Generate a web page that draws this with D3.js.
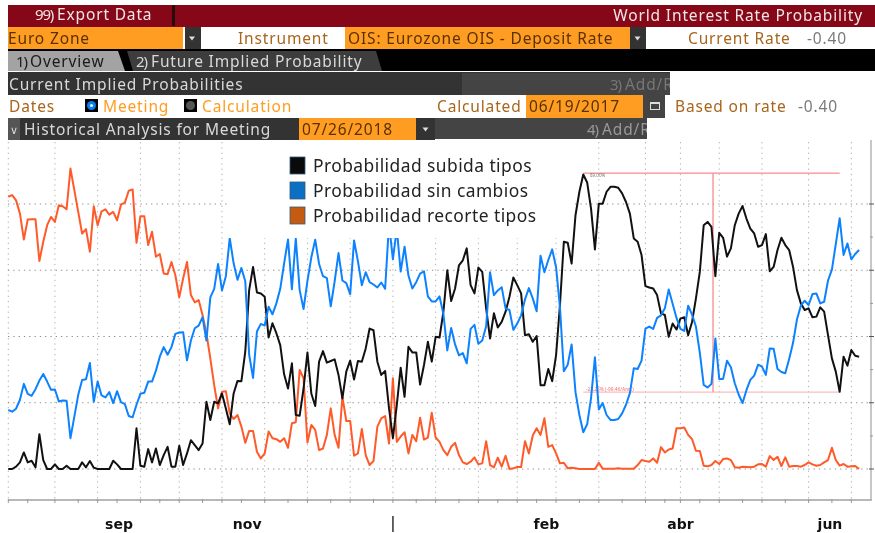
<!DOCTYPE html>
<html><head><meta charset="utf-8">
<script src="https://cdn.jsdelivr.net/npm/d3@7/dist/d3.min.js"></script>
<style>html,body{margin:0;padding:0;background:#fff;overflow:hidden}svg{display:block;filter:blur(0.4px)}</style></head>
<body><svg id="c" width="875" height="533"></svg>
<script>
const subida=[0,0,.7,2,5,2,2.5,.5,10.5,2.7,0,0,1.4,0,0,1,0,0,0,2,.5,2.4,.4,0,0,0,0,2.5,1.4,0,0,0,0,12.3,1,.7,6,2,6.2,1.2,4.2,6.7,.7,.7,7,1.2,4.7,8.7,7.2,5.7,7.7,20.3,14.8,20.3,19.8,22.8,18.3,13.5,22.8,26.6,26.5,35.4,54,61,53.3,53,52,39.7,44,41,37.4,28.6,24.3,
31.9,16.3,16.1,24.3,35.2,22.8,19,32.4,35.6,32.1,32.6,33.1,28.4,21.3,29.4,32.7,27,32.6,32.4,36.4,42.4,41.9,32.4,28.4,29.6,18.3,9.3,19.3,30.6,21.8,36.9,35.2,35.2,25.5,31.4,38.4,32.4,39.9,39.7,47.5,60,50.7,54.5,61.5,63,66.6,55.5,53,60.8,59.5,48.5,39.4,47,42.7,44.4,47.5,52,57.8,55.5,53,40.4,40.7,38.4,40.1,25.3,25.3,30.2,26.5,34.4,49.5,68.6,68.3,62,76.6,
83.7,88.9,86.5,78.6,66.3,80.1,80.1,83.7,85.2,85.2,84.9,83.2,80.6,77.1,69.6,68.6,64.6,55.2,54.8,54.5,52.5,47,46.5,39.9,43.9,42.1,45.4,45.8,40.4,44.4,51.5,59.5,73.6,74.6,73.1,58.2,71.3,69.8,64.1,66.6,73.6,77.1,79.4,75.6,72.6,71.1,67.1,67.6,70.9,59.7,61,66.1,69.8,67.6,66.1,61,54,50,48,48.5,45.8,46,48.8,47.5,40.4,33.4,29.4,23.3,33.9,31.2,35.9,34.2,33.9];
const sinCambios=[17.8,17.3,18.2,20.9,25.7,22.7,22.1,24.1,26.7,28.7,26.4,23.9,24,20.4,20.7,20.6,9.3,15.8,22.4,26.9,27.1,32,20.3,26.4,22.2,21.6,23.2,19.9,23.5,20.2,19.6,16,15.6,19.4,22.7,23,26.4,26.4,29.7,33.9,36.8,34.5,36.8,40.8,41.2,41.3,32.8,38.8,42.5,43.3,45.8,38.8,51.8,54.4,61.9,53.9,58.2,69.7,62.1,57.1,60.7,56.7,34.5,27.5,41.5,43.8,43.3,49,46.7,50,54.4,62.1,69.3,
54.3,69.6,54,48.3,56.8,63.9,69.2,61.9,58.2,57.6,49.1,56.6,65.2,56.9,56.1,52.8,69,62.7,55.5,59.4,56.4,55.7,54.8,56.3,54.4,74,63.3,72.5,59.6,67.1,58.4,54.5,56.4,59,59.7,52.1,50.6,50.6,52.1,46.8,35.8,42.6,37.6,34.3,35,31.9,42.3,43.5,37.8,38.8,43.1,59.4,52.5,53.9,54.9,48.5,48,42,43.9,46.4,51.2,54.6,51.5,47.6,64.4,59.4,63.1,66.3,60.9,48.8,29.5,31.5,37.6,23.2,
16.3,11.1,13.5,21.4,33.7,18,19.9,16.3,14.8,14.8,15.1,16.8,19.4,22.9,30.4,30.2,32.7,42.4,43,42.3,45.6,46.4,48.5,54.2,49.9,45.6,42.3,41.7,49.3,46.6,43,35.1,25.4,24.6,25.7,39.4,27.2,27.2,32.7,30.7,25.9,22.5,19.9,23.8,26.9,28.2,31.5,30.9,28.4,36.4,36.3,30.2,29.3,28.9,33.2,38.1,45.1,49.3,50.8,49.5,52.8,53,50,50.5,56.9,60.2,67.9,75.7,64.6,68.1,63.3,64.9,66.1];
const recorte=[82.2,82.7,81.1,77.1,69.3,75.3,75.4,75.4,62.8,68.6,73.6,76.1,74.6,79.6,79.3,78.4,90.7,84.2,77.6,71.1,72.4,65.6,79.3,73.6,77.8,78.4,76.8,77.6,75.1,79.8,80.4,84,84.4,68.3,76.3,76.3,67.6,71.6,64.1,64.9,59,58.8,62.5,58.5,51.8,57.5,62.5,52.5,50.3,51,46.5,40.9,33.4,25.3,18.3,23.3,23.5,16.8,15.1,16.3,12.8,7.9,11.5,11.5,5.2,3.2,4.7,11.3,9.3,9,8.2,9.3,6.4,
13.8,14.1,29.9,27.4,8,13.3,11.8,5.7,6.2,10.3,18.3,10.3,6.4,21.8,14.5,14.5,4,4.7,12.1,4.2,1.2,2.4,12.8,15.3,16,7.7,27.4,8.2,9.8,11.1,4.7,10.3,8.4,15.5,8.9,9.5,17,9.5,8.2,5.7,4.2,6.7,7.9,4.2,2,1.5,2.2,3.5,1.4,1.7,8.4,1.2,.5,3.4,.7,4,0,.2,.6,.6,8.4,4.7,10.1,12.3,10.3,15.3,6.7,7.2,4.7,1.7,1.9,.2,.4,.2,
0,0,0,0,0,1.9,.1,.1,.1,.1,.2,.1,.1,.1,.1,1.2,2.7,2.4,2.2,3.2,1.9,6.6,5,5.9,6.2,12.3,12.3,12.5,10.3,9,5.5,5.4,1,.8,1.2,2.4,1.5,3,3.2,2.7,.5,.4,.7,.6,.5,.7,1.4,1.5,.7,3.9,2.7,3.7,.9,3.5,.7,.9,.9,.7,1.2,2,1.4,1,1.2,2,2.7,6.4,2.7,1,1.5,.7,.8,.9,0];
const seriesNames=["Probabilidad subida tipos","Probabilidad sin cambios","Probabilidad recorte tipos"];
const gridX=[0,12,23,34,44,55,66,77,88,99,110,121,131,141,152,164,173,183,194,206,217];
const minorX=[5,18,28,39,50,60,72,83,94,105,116,126,136,147,158,169,178,189,200,212];
const majorY=[0,20,40,60,80];
const minorY=[10,30,50,70];
const monthLabels=[["sep",28.5],["nov",61.5],["|",99],["feb",138.5],["abr",173],["jun",211.5]];
const annotation={hiIdx:148,hi:89.3,lo:23.2,loStart:148,end:214,vIdx:181.4};

const svg=d3.select("#c");
const x=d3.scaleLinear().domain([0,219]).range([8.3,859.1]);
const y=d3.scaleLinear().domain([0,80]).range([469,204]);

function rect(a,b,w,h,f){svg.append("rect").attr("x",a).attr("y",b).attr("width",w).attr("height",h).attr("fill",f);}
function txt(a,b,s,f,sz,anchor,ls){return svg.append("text").attr("x",a).attr("y",b).text(s).attr("fill",f)
  .attr("font-family",'"Noto Sans",sans-serif').attr("font-size",sz||15.5).attr("text-anchor",anchor||"start")
  .attr("letter-spacing",ls===undefined?0.85:ls);}
const amber="#ff9d23",dk="#333333",brown="#a8651c",lt="#d9d9d9",ink="#5a3000";
rect(8,5,867,22,"#860818");
rect(172,5,3,21,"#2a0a0a");
txt(35,20,"99)","#f2e5e5",15,"start",-1.2);
txt(57,20,"Export Data","#f2e5e5");
txt(863,21,"World Interest Rate Probability","#f2e5e5",15.5,"end");
rect(8,27,175,22,amber); rect(185,27,16,22,dk);
rect(201,27,144,22,"#fff");
rect(345,27,285,22,amber); rect(630,27,16,22,dk);
txt(8,44,"Euro Zone",ink);
txt(238,44,"Instrument",brown);
txt(348,44,"OIS: Eurozone OIS - Deposit Rate",ink);
txt(688,44,"Current Rate",brown); txt(807,44,"-0.40","#7a7a7a");
rect(8,49,867,22,"#000");
svg.append("path").attr("d","M8 51H118L125 71H8Z").attr("fill","#a3a3a3");
svg.append("path").attr("d","M127 51H376L382 71H133Z").attr("fill","#3d3d3d");
txt(16,67,"1)","#1a1a1a",15,"start",-1.2);
txt(30,67,"Overview","#1a1a1a");
txt(136,67,"2)",lt,15,"start",-1.2);
txt(151,67,"Future Implied Probability",lt);
rect(8,72,662,23,dk); rect(462,73,208,22,"#444");
txt(9,90,"Current Implied Probabilities",lt);
txt(610,90,"3)","#777",15,"start",-1.2);
txt(625,90,"Add/R","#777");
rect(670,72,205,23,"#fff");
rect(8,95,867,23,"#fff");
txt(9,112,"Dates",brown);
rect(85,99,13,13,"#000"); svg.append("circle").attr("cx",91.5).attr("cy",105.5).attr("r",4.5).attr("fill","#0a7cf0");svg.append("circle").attr("cx",91.5).attr("cy",105.5).attr("r",1.6).attr("fill","#cfe");
txt(103,112,"Meeting",amber);
rect(184,99,13,13,"#000"); svg.append("circle").attr("cx",190.5).attr("cy",105.5).attr("r",4.5).attr("fill","#555");
txt(202,112,"Calculation",amber);
txt(437,112,"Calculated",brown);
rect(526,95,117,23,amber); rect(643,95,22,23,"#444");
rect(650,102,10,8,"#ddd"); rect(651,104,8,5,"#444");
txt(529,112,"06/19/2017",ink);
txt(675,112,"Based on rate",brown); txt(798,112,"-0.40","#7a7a7a");
rect(8,118,291,22,dk); rect(8,118,12,22,"#555");
txt(10,134,"\u2228",lt,11);
txt(24,135,"Historical Analysis for Meeting",lt);
rect(299,118,117,22,amber); rect(416,118,19,22,dk); rect(435,118,212,21,"#444");
txt(302,135,"07/26/2018",ink);
txt(587,135,"4)","#999",15,"start",-1.2);
txt(602,135,"Add/R","#999");
rect(647,118,228,22,"#fff");
[[192,38],[637.5,38],[425.5,129]].forEach(p=>svg.append("path").attr("d",`M${p[0]-3} ${p[1]-1.5}h6l-3 4z`).attr("fill","#ddd"));

const gridG=svg.append("g");
const dot="1.3,4";
gridX.forEach(i=>gridG.append("line").attr("x1",x(i)).attr("x2",x(i)).attr("y1",142).attr("y2",500)
  .attr("stroke","#b0b0b0").attr("stroke-width",1).attr("stroke-dasharray",dot));
majorY.forEach(v=>gridG.append("line").attr("x1",8).attr("x2",870).attr("y1",y(v)).attr("y2",y(v))
  .attr("stroke","#8c8c8c").attr("stroke-width",1).attr("stroke-dasharray",dot));
gridG.append("line").attr("x1",8).attr("x2",872).attr("y1",500).attr("y2",500).attr("stroke","#a0a0a0").attr("stroke-width",1.5);
gridG.append("line").attr("x1",871).attr("x2",871).attr("y1",140).attr("y2",500).attr("stroke","#b5b5b5").attr("stroke-width",1.5);
majorY.forEach(v=>gridG.append("line").attr("x1",869).attr("x2",874).attr("y1",y(v)).attr("y2",y(v)).attr("stroke","#555"));
minorY.forEach(v=>gridG.append("line").attr("x1",870).attr("x2",873).attr("y1",y(v)).attr("y2",y(v)).attr("stroke","#999"));
gridX.concat(minorX).forEach(i=>gridG.append("line").attr("x1",x(i)).attr("x2",x(i)).attr("y1",499).attr("y2",503).attr("stroke","#999"));

const red="#f98a8a";
svg.append("line").attr("x1",x(annotation.hiIdx)).attr("x2",x(annotation.end)).attr("y1",y(annotation.hi)).attr("y2",y(annotation.hi)).attr("stroke",red).attr("stroke-width",1.2);
svg.append("line").attr("x1",x(annotation.loStart)).attr("x2",x(annotation.end)).attr("y1",y(annotation.lo)).attr("y2",y(annotation.lo)).attr("stroke","#fbbcbc").attr("stroke-width",1.4);
svg.append("line").attr("x1",x(annotation.vIdx)).attr("x2",x(annotation.vIdx)).attr("y1",y(annotation.hi)).attr("y2",y(annotation.lo)).attr("stroke",red).attr("stroke-width",1.3);
txt(590,177,"89.00%","#777",4.5,"start",0);
txt(586,391,"-23.26% (-99.46/Ann.)","#f07070",4.8,"start",0);

const line=d3.line().x((d,i)=>x(i)).y(d=>y(d)).curve(d3.curveLinear);
[[recorte,"#ff5a2a"],[subida,"#111111"],[sinCambios,"#0d82ff"]].forEach(([s,c])=>{
  svg.append("path").datum(s).attr("d",line).attr("fill","none").attr("stroke",c).attr("stroke-width",2).attr("stroke-linejoin","round");
});
rect(228,141,344,97,"#fff");

[["#0a0a0a",0],["#0b6fc4",1],["#c55a11",2]].forEach(([c,k])=>{
  rect(290,157+k*25,15,17,c);
  svg.append("rect").attr("x",290).attr("y",157+k*25).attr("width",15).attr("height",17).attr("fill","none").attr("stroke","#345a7a").attr("stroke-width",.8);
  txt(313,172+k*25,seriesNames[k],"#222",17.4,"start",0.45);
});
monthLabels.forEach(([s,i])=>{
  svg.append("text").attr("x",x(i)).attr("y",s==="|"?528:529).attr("text-anchor","middle").text(s)
   .attr("font-family",'"DejaVu Sans",sans-serif').attr("font-size",s==="|"?16:14).attr("fill","#111").style("font-weight",s==="|"?"normal":"bold");
});
</script></body></html>
